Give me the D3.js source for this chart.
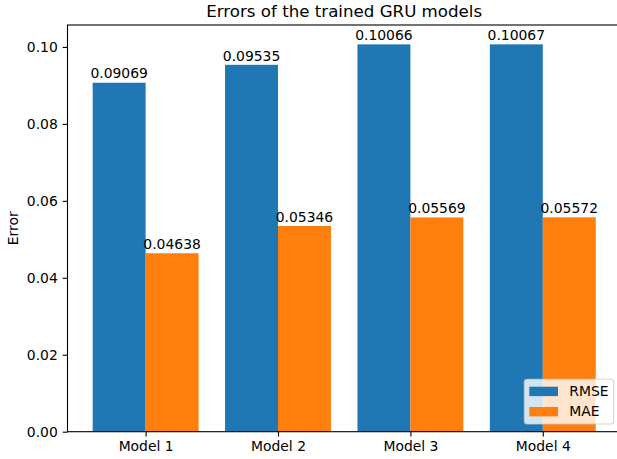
<!DOCTYPE html>
<html>
<head>
<meta charset="utf-8">
<script src="https://cdn.jsdelivr.net/npm/d3@7"></script>
<style>
  html, body { margin: 0; padding: 0; background: #fff; }
  svg { display: block; font-family: "DejaVu Sans", sans-serif; }
</style>
</head>
<body>
<svg id="chart" width="617" height="459"></svg>
<script>
// ── data ──
const models = ['Model 1', 'Model 2', 'Model 3', 'Model 4'];
const rmse   = [0.09069, 0.09535, 0.10066, 0.10067];
const mae    = [0.04638, 0.05346, 0.05569, 0.05572];
const yTicks = [0.00, 0.02, 0.04, 0.06, 0.08, 0.10];
const seriesNames = ['RMSE', 'MAE'];
const colors = ['#1f77b4', '#ff7f0e'];

const svg = d3.select('#chart');
const L = 67.5, R = 620.9, T = 25, B = 431.7;
const barW = 0.4;

const x = d3.scaleLinear().domain([-0.59, 3.59]).range([L, R]);
const y = d3.scaleLinear().domain([0, 0.1057]).range([B, T]);

// bars
const series = [rmse, mae];
series.forEach((vals, si) => {
  const off = si === 0 ? -barW : 0;
  const g = svg.append('g');
  g.selectAll('rect').data(vals).join('rect')
    .attr('x', (d, i) => x(i + off))
    .attr('width', x(barW) - x(0))
    .attr('y', d => y(d))
    .attr('height', d => y(0) - y(d))
    .attr('fill', colors[si]);
  g.selectAll('text').data(vals).join('text')
    .attr('x', (d, i) => x(i + off + barW / 2))
    .attr('y', d => y(d) - 4.3)
    .attr('text-anchor', 'middle')
    .attr('font-size', 13.9)
    .text(d => d.toFixed(5));
});

// axes
const yAxis = d3.axisLeft(y).tickValues(yTicks).tickFormat(d3.format('.2f'))
  .tickSize(4.86).tickPadding(4.86);
const xAxis = d3.axisBottom(x).tickValues(models.map((m, i) => i)).tickFormat(i => models[i])
  .tickSize(4.86).tickPadding(4.86);

const gy = svg.append('g').attr('transform', `translate(${L},0)`).call(yAxis);
const gx = svg.append('g').attr('transform', `translate(0,${B})`).call(xAxis);
[gx, gy].forEach(g => {
  g.select('.domain').remove();
  g.selectAll('line').attr('stroke', '#000').attr('stroke-width', 1.1);
  g.selectAll('text').attr('font-size', 13.9).attr('fill', '#000')
    .attr('font-family', '"DejaVu Sans", sans-serif');
});

// spines
svg.append('rect')
  .attr('x', L).attr('y', T).attr('width', R - L).attr('height', B - T)
  .attr('fill', 'none').attr('stroke', '#000').attr('stroke-width', 1.1);

// title + label
svg.append('text').attr('x', (L + R) / 2).attr('y', 16.7)
  .attr('text-anchor', 'middle').attr('font-size', 16.67)
  .text('Errors of the trained GRU models');
svg.append('text')
  .attr('transform', `translate(18,${(T + B) / 2}) rotate(-90)`)
  .attr('text-anchor', 'middle').attr('font-size', 13.9)
  .text('Error');

// legend
const lg = svg.append('g');
lg.append('rect')
  .attr('x', 524.3).attr('y', 379.3).attr('width', 89.4).attr('height', 44.7)
  .attr('rx', 3).attr('fill', '#fff').attr('fill-opacity', 0.8)
  .attr('stroke', '#cccccc').attr('stroke-opacity', 0.8).attr('stroke-width', 1.1);
seriesNames.forEach((name, i) => {
  const yy = 386.7 + i * 20.3;
  lg.append('rect').attr('x', 529.3).attr('y', yy).attr('width', 28.7).attr('height', 9.4)
    .attr('fill', colors[i]);
  lg.append('text').attr('x', 569.3).attr('y', yy + 9.4)
    .attr('font-size', 13.9).text(name);
});
</script>
</body>
</html>
